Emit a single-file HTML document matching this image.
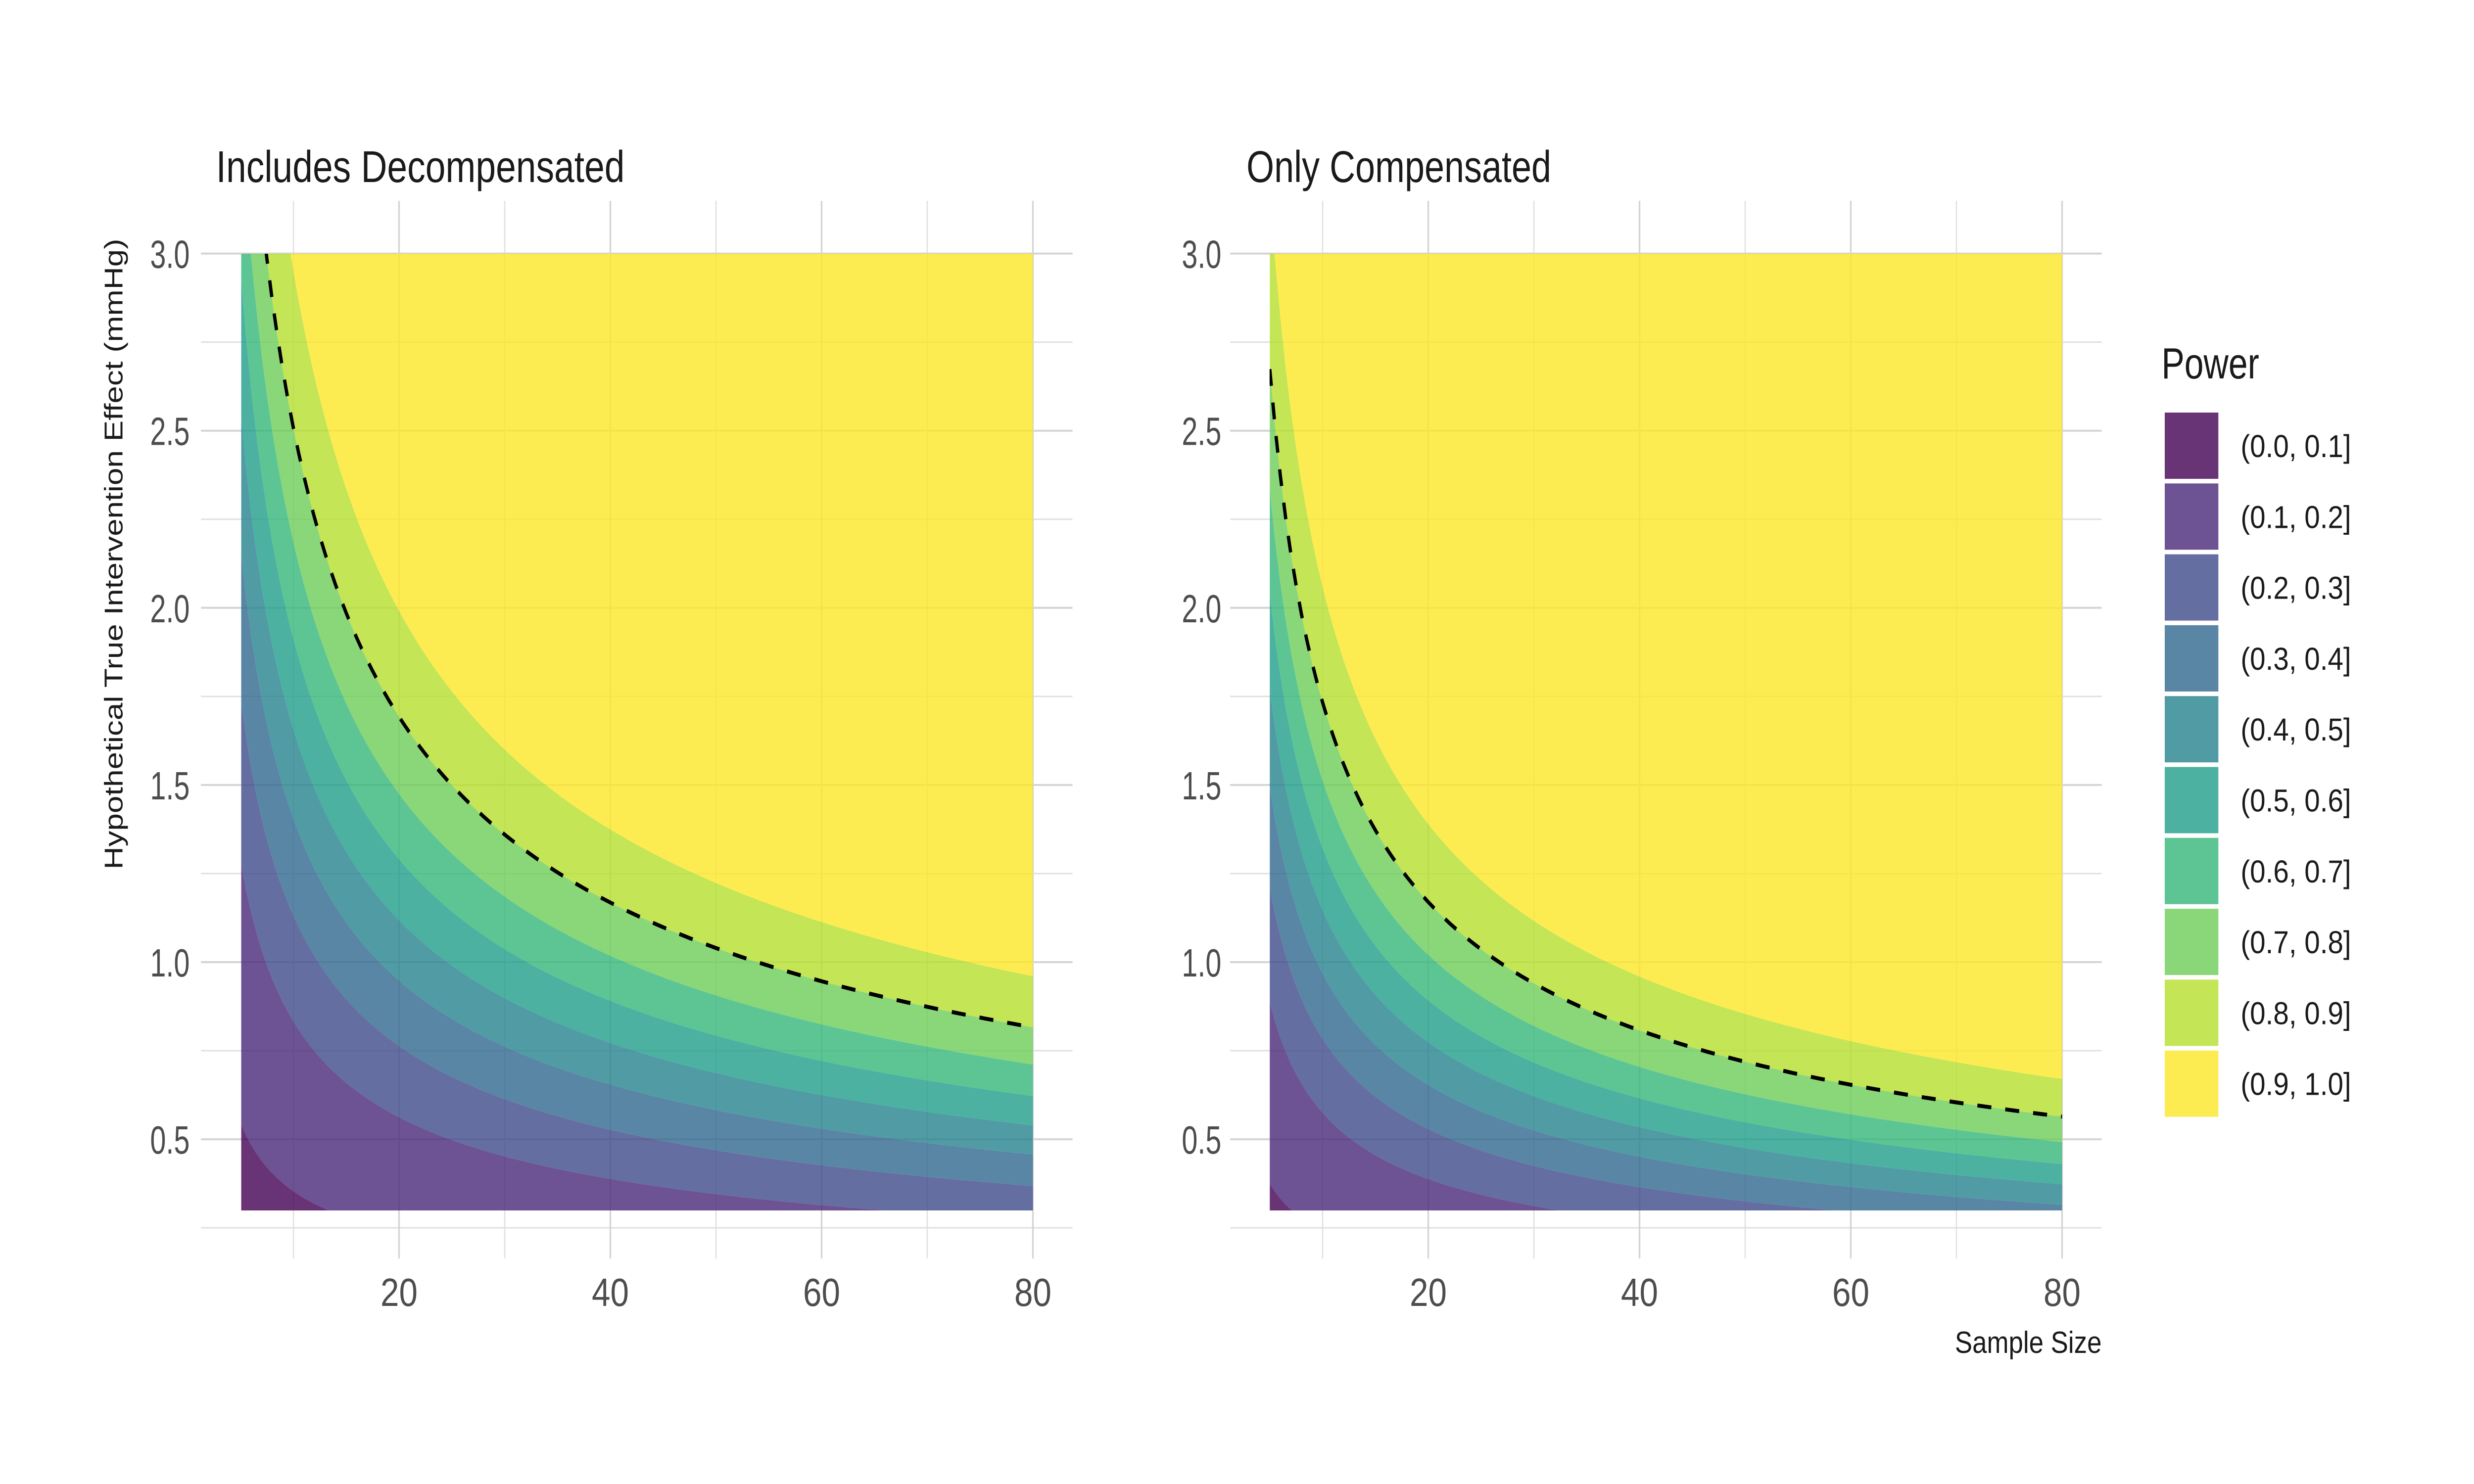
<!DOCTYPE html>
<html><head><meta charset="utf-8">
<style>
html,body{margin:0;padding:0;background:#fff;width:100%;height:100%;overflow:hidden;}
svg{display:block;width:100vw;height:100vh;}
text{font-family:"Liberation Sans Narrow","Liberation Sans",sans-serif;}
</style></head>
<body>
<svg id="chart" xmlns="http://www.w3.org/2000/svg" viewBox="0 0 6000 3000" preserveAspectRatio="none">
<rect x="0" y="0" width="6000" height="3000" fill="#ffffff"/>
<defs>
<clipPath id="clipL"><rect x="585" y="513" width="1920" height="1934"/></clipPath>
<clipPath id="clipR"><rect x="3079" y="513" width="1922" height="1934"/></clipPath>
</defs>
<g id="root"></g>
</svg>
<script>
// ---- data ----
const powerBreaks = [0.1, 0.2, 0.3, 0.4, 0.5, 0.6, 0.7, 0.8, 0.9];
// effect size (mmHg) at which each power boundary sits at sample size 80
const effectAt80Decomp = [0.115, 0.271, 0.368, 0.457, 0.539, 0.622, 0.711, 0.816, 0.960];
const effectAt80Comp = [0.079, 0.187, 0.255, 0.315, 0.373, 0.430, 0.492, 0.564, 0.670];
const bandLabels = ["(0.0, 0.1]","(0.1, 0.2]","(0.2, 0.3]","(0.3, 0.4]","(0.4, 0.5]","(0.5, 0.6]","(0.6, 0.7]","(0.7, 0.8]","(0.8, 0.9]","(0.9, 1.0]"];
const bandColors = ["#440154","#482878","#3E4A89","#31688E","#26828E","#1F9E89","#35B779","#6DCD59","#B4DE2C","#FDE725"];
const xTicks = [20, 40, 60, 80];
const xMinor = [10, 30, 50, 70];
const yTicks = [0.5, 1.0, 1.5, 2.0, 2.5, 3.0];
const yMinor = [0.25, 0.75, 1.25, 1.75, 2.25, 2.75];
const dashedPower = 0.8;

const NS = "http://www.w3.org/2000/svg";
const root = document.getElementById("root");
function mk(tag, attrs, parent) {
  const e = document.createElementNS(NS, tag);
  for (const k in attrs) e.setAttribute(k, attrs[k]);
  (parent || root).appendChild(e);
  return e;
}
const yScale = d => 1945 + (1 - d) * 716.2;
const nMin = 5, nMax = 80;
function curve(eff80, n) { return eff80 * Math.sqrt(80 / n) * (1 + 1 / n) / (1 + 1 / 80); }
const nSamples = [];
for (let n = nMin; n <= nMax + 1e-9; n += 0.5) nSamples.push(n);

function panel(cfg) {
  const xScale = n => cfg.x80 - (80 - n) * 25.62;
  const g = mk("g", {});
  
  
  const x0 = xScale(1.25), x1 = xScale(83.75);
  yMinor.forEach(v => {
    const l = mk("line", {x1: x0, x2: x1, y1: yScale(v), y2: yScale(v), stroke: "#e0e0e0", "stroke-width": 3}, g);
    
    
  });
  xMinor.forEach(v => {
    const l = mk("line", {x1: xScale(v), x2: xScale(v), y1: 406, y2: 2544, stroke: "#e0e0e0", "stroke-width": 3}, g);
    
    
  });
  yTicks.forEach(v => {
    const l = mk("line", {x1: x0, x2: x1, y1: yScale(v), y2: yScale(v), stroke: "#d4d4d4", "stroke-width": 4}, g);
    
    
  });
  xTicks.forEach(v => {
    const l = mk("line", {x1: xScale(v), x2: xScale(v), y1: 406, y2: 2544, stroke: "#d4d4d4", "stroke-width": 4}, g);
    
    
  });
  const fills = mk("g", {"clip-path": "url(#" + cfg.clip + ")"}, g);
  
  
  const pts = eff => nSamples.map(n => [xScale(n), Math.max(-5000, yScale(Math.min(curve(eff, n), 20)))]);
  for (let b = 0; b < bandColors.length; b++) {
    let upper, lower;
    if (b === bandColors.length - 1) upper = nSamples.map(n => [xScale(n), -100]);
    else upper = pts(cfg.eff[b]);
    if (b === 0) lower = nSamples.map(n => [xScale(n), 3100]);
    else lower = pts(cfg.eff[b - 1]);
    const all = upper.concat(lower.slice().reverse());
    const d = "M" + all.map(p => p[0].toFixed(1) + "," + p[1].toFixed(1)).join("L") + "Z";
    const p = mk("path", {d: d, fill: bandColors[b], "fill-opacity": 0.8}, fills);
    
    
  }
  const di = powerBreaks.indexOf(dashedPower);
  const dp = pts(cfg.eff[di]);
  const dl = mk("path", {d: "M" + dp.map(p => p[0].toFixed(1) + "," + p[1].toFixed(1)).join("L"), fill: "none", stroke: "#000", "stroke-width": 8, "stroke-dasharray": "34 34"}, fills);
  
  
  yTicks.forEach(v => {
    const t = mk("text", {x: cfg.yLabX, y: yScale(v) + 29, "text-anchor": "end", "font-size": 80, fill: "#4d4d4d", textLength: 96, lengthAdjust: "spacingAndGlyphs"}, g);
    t.textContent = v.toFixed(1);
    
    
  });
  xTicks.forEach(v => {
    const t = mk("text", {x: xScale(v), y: 2640, "text-anchor": "middle", "font-size": 80, fill: "#4d4d4d", textLength: 90, lengthAdjust: "spacingAndGlyphs"}, g);
    t.textContent = String(v);
    
    
  });
  const tt = mk("text", {x: cfg.titleX, y: 368, "font-size": 90, fill: "#1a1a1a", textLength: cfg.titleLen, lengthAdjust: "spacingAndGlyphs"}, g);
  tt.textContent = cfg.title;
  
  
}

panel({name: "panel-includes-decompensated", x80: 2505, clip: "clipL", eff: effectAt80Decomp, yLabX: 460, titleX: 524, titleLen: 991, title: "Includes Decompensated"});
panel({name: "panel-only-compensated", x80: 5001, clip: "clipR", eff: effectAt80Comp, yLabX: 2962, titleX: 3023, titleLen: 739, title: "Only Compensated"});

const yt = mk("text", {x: 0, y: 0, transform: "translate(297,1120) rotate(-90)", "text-anchor": "middle", "font-size": 62, fill: "#1a1a1a", textLength: 1275, lengthAdjust: "spacingAndGlyphs"});
yt.textContent = "Hypothetical True Intervention Effect (mmHg)";


const xt = mk("text", {x: 5097, y: 2735, "text-anchor": "end", "font-size": 62, fill: "#1a1a1a", textLength: 356, lengthAdjust: "spacingAndGlyphs"});
xt.textContent = "Sample Size";



const lg = mk("g", {});


const lt = mk("text", {x: 5242, y: 765, "font-size": 88, fill: "#1a1a1a", textLength: 237, lengthAdjust: "spacingAndGlyphs"}, lg);
lt.textContent = "Power";


bandLabels.forEach((lab, i) => {
  const top = 834 + i * 143.3;
  const r = mk("rect", {x: 5250, y: top, width: 130, height: 134, fill: bandColors[i], "fill-opacity": 0.8}, lg);
  
  
  const t = mk("text", {x: 5434, y: top + 67 + 23, "font-size": 64, fill: "#1a1a1a", textLength: 268, lengthAdjust: "spacingAndGlyphs"}, lg);
  t.textContent = lab;
  
  
});
</script>
</body></html>
